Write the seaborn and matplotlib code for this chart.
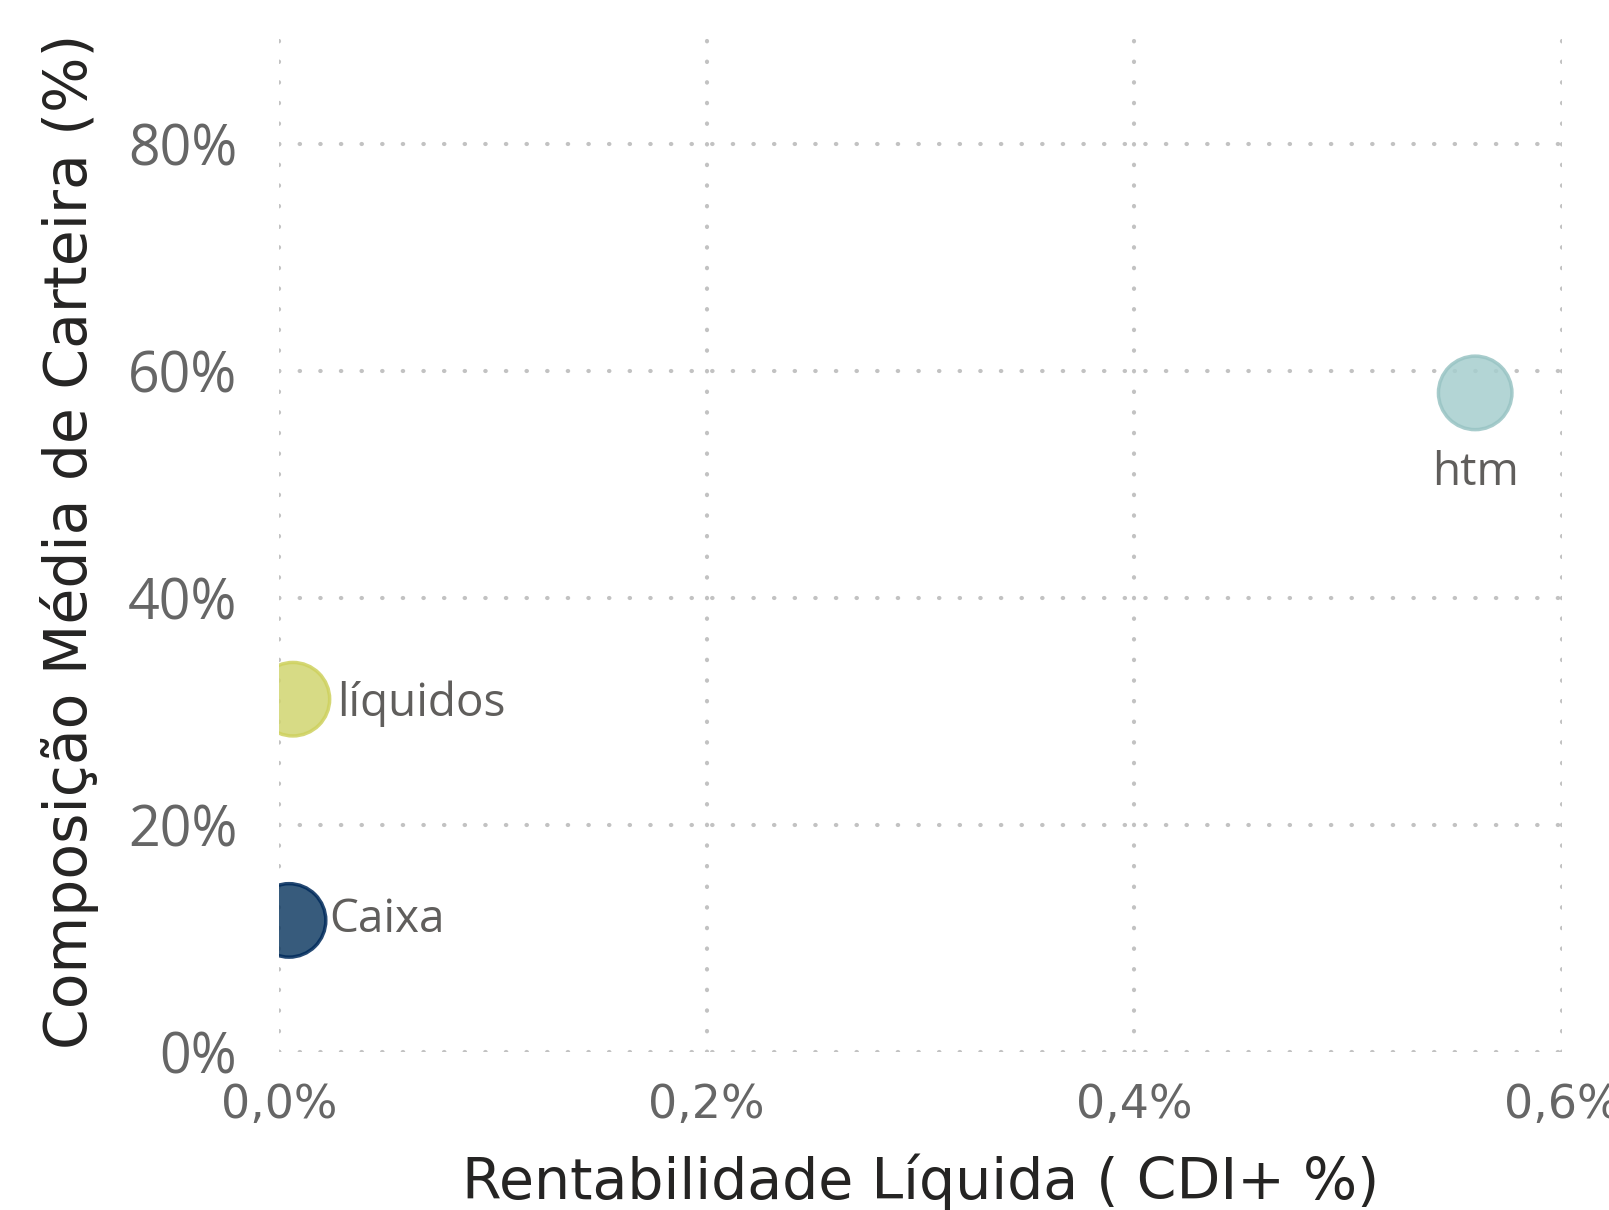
import matplotlib
matplotlib.use("Agg")
import matplotlib.pyplot as plt
import seaborn as sns
import pandas as pd
from matplotlib.ticker import FuncFormatter, MultipleLocator

# Carteira: rentabilidade líquida (CDI+ %) x composição média (%)
categorias = ["Caixa", "líquidos", "htm"]
rentabilidade = [0.0047, 0.0065, 0.5594]
composicao = [11.6, 31.1, 58.1]
cores = ["#143E65", "#D1D570", "#A6CECE"]
bordas = ["#002A5B", "#CED15E", "#99C4C4"]

df = pd.DataFrame({"categoria": categorias, "rent": rentabilidade, "comp": composicao})

sns.set_theme(style="white")
plt.rcParams["font.family"] = ["DejaVu Sans"]

fig = plt.figure(figsize=(16.09, 12.10), dpi=100)
ax = fig.add_axes([279 / 1609, 1 - 1052 / 1210, (1562 - 279) / 1609, (1052 - 31) / 1210])

sns.scatterplot(data=df, x="rent", y="comp", hue="categoria", hue_order=categorias,
                palette=dict(zip(categorias, cores)), s=2800, alpha=0.85,
                linewidth=2.5, legend=False, ax=ax, zorder=3)
ax.collections[0].set_edgecolor(bordas)

ax.set_xlim(0, 0.6)
ax.set_ylim(0, 90)
ax.xaxis.set_major_locator(MultipleLocator(0.2))
ax.yaxis.set_major_locator(MultipleLocator(20))
ax.xaxis.set_major_formatter(FuncFormatter(lambda v, p: f"{v:.1f}%".replace(".", ",")))
ax.yaxis.set_major_formatter(FuncFormatter(lambda v, p: f"{v:.0f}%"))

# grade pontilhada
ax.grid(True, color="#C2C2C2", linestyle=(0, (0.1, 4.85)), linewidth=3.0,
        dash_capstyle="round")
ax.set_axisbelow(True)
for sp in ax.spines.values():
    sp.set_visible(False)
ax.tick_params(axis="y", length=0, pad=30)
ax.tick_params(axis="x", length=0, pad=22)

for lab in ax.get_yticklabels():
    lab.set_family(["Open Sans", "DejaVu Sans"])
    lab.set_fontsize(40)
    lab.set_color("#666666")
for lab in ax.get_xticklabels():
    lab.set_fontsize(33)
    lab.set_color("#666666")

ax.set_xlabel("Rentabilidade Líquida ( CDI+ %)", fontsize=41, color="#252423", va="center")
ax.set_ylabel("Composição Média de Carteira (%)", fontsize=42, color="#252423", va="center")
ax.xaxis.set_label_coords(0.5, -0.128)
ax.yaxis.set_label_coords(-0.163, 0.5)

rotulo = dict(fontsize=33, color="#605E5C", family=["Open Sans", "DejaVu Sans"])
ax.annotate("Caixa", (rentabilidade[0], composicao[0]), xytext=(29, 0),
            textcoords="offset points", ha="left", va="center", **rotulo)
ax.annotate("líquidos", (rentabilidade[1], composicao[1]), xytext=(32, -3),
            textcoords="offset points", ha="left", va="center", **rotulo)
ax.annotate("htm", (rentabilidade[2], composicao[2]), xytext=(0, -58),
            textcoords="offset points", ha="center", va="center", **rotulo)

fig.savefig("out.png", dpi=100)
